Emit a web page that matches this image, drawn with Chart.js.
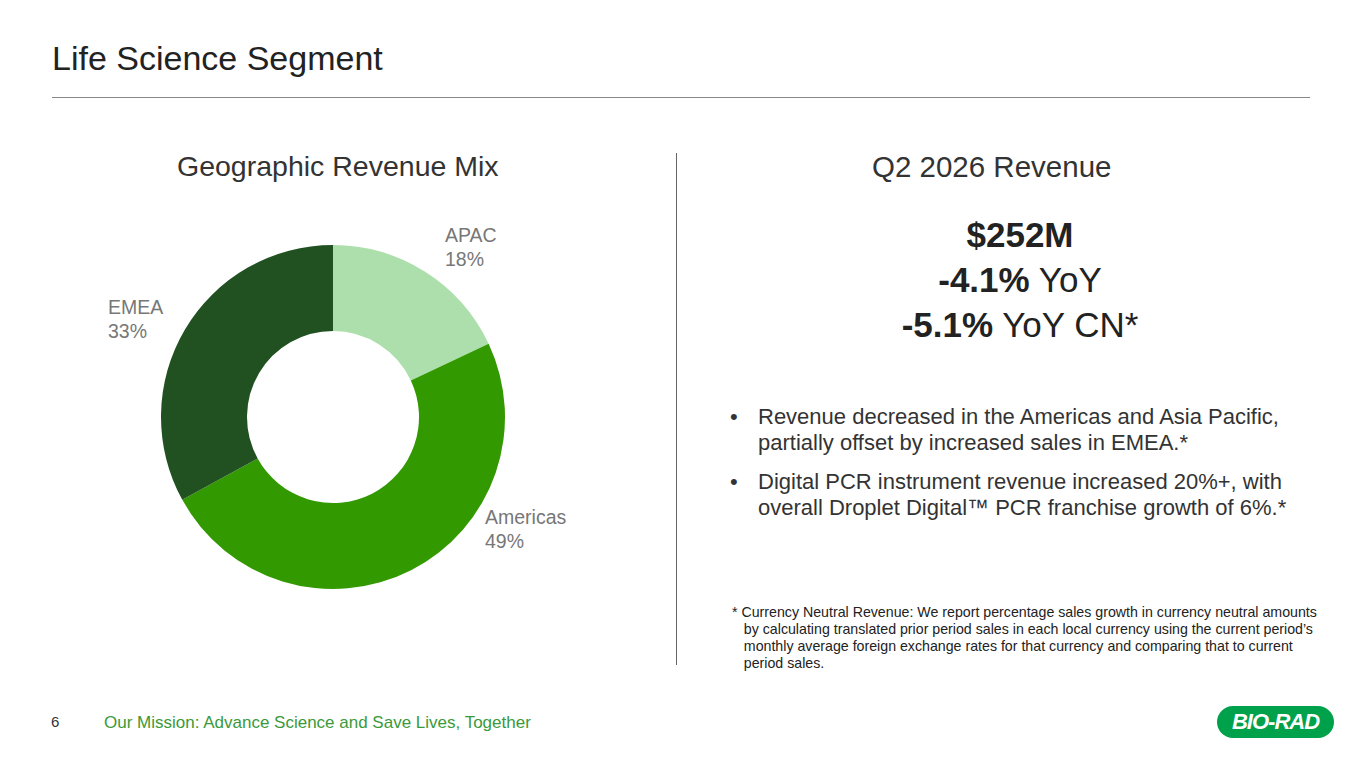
<!DOCTYPE html><html><head><meta charset="utf-8">
<script src="https://cdn.jsdelivr.net/npm/chart.js@4"></script>
<style>
body{margin:0;width:1365px;height:768px;background:#fff;font-family:"Liberation Sans",Arial,sans-serif;position:relative;overflow:hidden}
.a{position:absolute;white-space:nowrap}
</style></head><body>
<div class="a" style="left:52px;top:39px;font-size:34px;color:#222">Life Science Segment</div>
<div class="a" style="left:52px;top:97px;width:1258px;height:1px;background:#888"></div>
<div class="a" style="left:676px;top:153px;width:1px;height:512px;background:#666"></div>
<div class="a" style="left:177px;top:150px;font-size:28.5px;color:#333">Geographic Revenue Mix</div>
<div class="a" style="left:872px;top:150px;font-size:29.5px;color:#333">Q2 2026 Revenue</div>
<div class="a" style="left:810px;top:212px;width:420px;text-align:center;font-size:35px;line-height:45px;color:#222"><b>$252M</b><br><b>-4.1%</b> YoY<br><b>-5.1%</b> YoY CN*</div>
<div class="a" style="left:730px;top:404px;font-size:22px;line-height:26px;color:#333">•<span style="position:absolute;left:28px">Revenue decreased in the Americas and Asia Pacific,<br>partially offset by increased sales in EMEA.*</span></div>
<div class="a" style="left:730px;top:469px;font-size:22px;line-height:26px;color:#333">•<span style="position:absolute;left:28px">Digital PCR instrument revenue increased 20%+, with<br>overall Droplet Digital™ PCR franchise growth of 6%.*</span></div>
<div class="a" style="left:732px;top:604px;font-size:14.2px;line-height:17px;color:#222">* Currency Neutral Revenue: We report percentage sales growth in currency neutral amounts<br>&nbsp;&nbsp;&nbsp;by calculating translated prior period sales in each local currency using the current period’s<br>&nbsp;&nbsp;&nbsp;monthly average foreign exchange rates for that currency and comparing that to current<br>&nbsp;&nbsp;&nbsp;period sales.</div>
<div class="a" style="left:51px;top:713px;font-size:15px;color:#333">6</div>
<div class="a" style="left:104px;top:713px;font-size:17px;color:#3a9a3a">Our Mission: Advance Science and Save Lives, Together</div>
<div class="a" style="left:1217px;top:706px;width:117px;height:32px;border-radius:16px;background:#00a14b;color:#fff;font-weight:bold;font-style:italic;font-size:22px;line-height:32px;text-align:center;letter-spacing:-1px">BIO-RAD</div>
<div id="labels"></div>
<div class="a" style="left:157px;top:241px;width:352px;height:352px"><canvas id="c" width="352" height="352"></canvas></div>
<script>
const categories=["APAC","Americas","EMEA"];
const values=[18,49,33];
const colors=["#acdfac","#339900","#215121"];
const labelPos=[[445,223],[485,505],[108,295]];
new Chart(document.getElementById('c'),{type:'doughnut',
data:{labels:categories,datasets:[{data:values,backgroundColor:colors,borderWidth:0}]},
options:{responsive:false,animation:false,cutout:'50%',layout:{padding:4},plugins:{legend:{display:false},tooltip:{enabled:false}}}});
const L=document.getElementById('labels');
categories.forEach((c,i)=>{const d=document.createElement('div');d.className='a';d.style.left=labelPos[i][0]+'px';d.style.top=labelPos[i][1]+'px';d.style.fontSize='19.5px';d.style.lineHeight='24px';d.style.color='#777';d.innerHTML=c+'<br>'+values[i]+'%';L.appendChild(d);});
</script></body></html>
